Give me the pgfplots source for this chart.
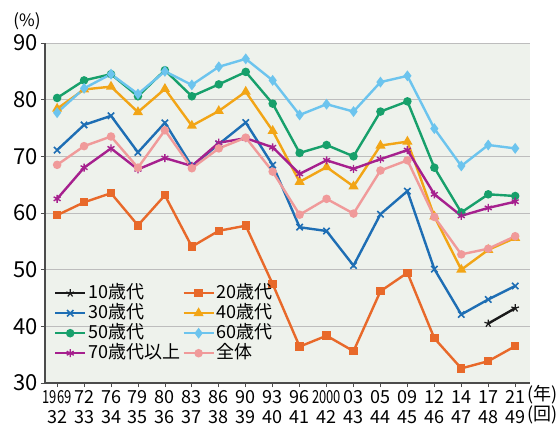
\documentclass[border=0pt]{standalone}
\usepackage{fontspec}
\setmainfont{Noto Sans CJK JP}
\usepackage{graphicx}
\usepackage{pgfplots}
\pgfplotsset{compat=1.18}
\definecolor{c10}{HTML}{1A1A1A}
\definecolor{c20}{HTML}{E8692A}
\definecolor{c30}{HTML}{1E6EB4}
\definecolor{c40}{HTML}{F2A516}
\definecolor{c50}{HTML}{17A06B}
\definecolor{c60}{HTML}{6CC4EE}
\definecolor{c70}{HTML}{A6208E}
\definecolor{call}{HTML}{F09A9A}
\definecolor{bg}{HTML}{EEF2EC}
\definecolor{gridc}{HTML}{BDBDBD}
\newcommand{\cn}[1]{\scalebox{0.72}[1]{#1}}
\begin{document}
\begin{tikzpicture}
\begin{axis}[
  width=485pt, height=340pt, scale only axis,
  xmin=-0.45, xmax=17.55, ymin=30, ymax=90,
  ytick={30,40,...,90},
  xtick={0,...,17},
  xticklabels={{\cn{1969}\\32},{72\\33},{76\\34},{79\\35},{80\\36},{83\\37},{86\\38},{90\\39},{93\\40},{96\\41},{\cn{2000}\\42},{03\\43},{05\\44},{09\\45},{12\\46},{14\\47},{17\\48},{21\\49}},
  xticklabel style={align=center, font=\fontsize{18}{20}\selectfont},
  yticklabel style={font=\fontsize{22}{24}\selectfont},
  /pgf/number format/assume math mode=true,
  axis x line*=bottom, axis y line*=left,
  axis line style={draw=black!70, line width=1.3pt, -},
  tick style={draw=black!70, line width=0.8pt},
  tick align=outside, major tick length=4pt,
  ymajorgrids, grid style={draw=gridc, line width=0.8pt},
  axis background/.style={fill=bg},
  clip=false,
  every axis plot/.append style={line width=2.4pt},
  legend columns=2,
  legend cell align=left,
  legend style={at={(0.012,0.30)}, anchor=north west, draw=none, fill=none,
    font=\fontsize{18}{19}\selectfont, row sep=0pt, column sep=1pt,
    nodes={inner sep=1pt, text height=14pt, text depth=4pt}},
  legend image code/.code={\draw[mark repeat=2,mark phase=2] plot coordinates {(0pt,0pt) (15pt,0pt) (30pt,0pt)};},
]
\addplot[c10, mark=star, mark size=4pt, mark options={line width=1.2pt}] coordinates {(16,40.5) (17,43.2)};
\addlegendentry{10歳代}
\addplot[c20, mark=square*, mark size=3pt] coordinates {
(0,59.61) (1,61.89) (2,63.50) (3,57.82) (4,63.13) (5,54.07) (6,56.86) (7,57.76) (8,47.46)
(9,36.42) (10,38.35) (11,35.62) (12,46.20) (13,49.45) (14,37.89) (15,32.58) (16,33.85) (17,36.50)};
\addlegendentry{20歳代}
\addplot[c30, mark=x, mark size=4.5pt, mark options={line width=1.6pt}] coordinates {
(0,71.11) (1,75.54) (2,77.15) (3,70.70) (4,75.92) (5,68.25) (6,72.15) (7,75.97) (8,68.46)
(9,57.49) (10,56.82) (11,50.72) (12,59.79) (13,63.87) (14,50.10) (15,42.09) (16,44.75) (17,47.12)};
\addlegendentry{30歳代}
\addplot[c40, mark=triangle*, mark size=3.5pt] coordinates {
(0,78.4) (1,81.8) (2,82.3) (3,77.8) (4,81.9) (5,75.4) (6,78.0) (7,81.4) (8,74.5)
(9,65.5) (10,68.1) (11,64.7) (12,71.9) (13,72.6) (14,59.4) (15,50.0) (16,53.5) (17,55.6)};
\addlegendentry{40歳代}
\addplot[c50, mark=*, mark size=3pt] coordinates {
(0,80.3) (1,83.4) (2,84.5) (3,80.6) (4,85.2) (5,80.6) (6,82.7) (7,84.9) (8,79.3)
(9,70.6) (10,72.0) (11,70.0) (12,77.9) (13,79.7) (14,68.0) (15,60.1) (16,63.3) (17,63.0)};
\addlegendentry{50歳代}
\addplot[c60, mark=diamond*, mark size=3.5pt] coordinates {
(0,77.7) (1,82.0) (2,84.5) (3,81.0) (4,85.0) (5,82.6) (6,85.8) (7,87.2) (8,83.4)
(9,77.3) (10,79.2) (11,77.9) (12,83.1) (13,84.2) (14,74.9) (15,68.3) (16,72.0) (17,71.4)};
\addlegendentry{60歳代}
\addplot[c70, mark=asterisk, mark size=4pt, mark options={line width=1.4pt}] coordinates {
(0,62.5) (1,68.0) (2,71.4) (3,67.7) (4,69.7) (5,68.3) (6,72.4) (7,73.2) (8,71.6)
(9,66.9) (10,69.3) (11,67.8) (12,69.5) (13,71.1) (14,63.3) (15,59.5) (16,60.9) (17,62.0)};
\addlegendentry{70歳代以上}
\addplot[call, mark=*, mark size=3pt] coordinates {
(0,68.5) (1,71.8) (2,73.5) (3,68.0) (4,74.6) (5,67.9) (6,71.4) (7,73.3) (8,67.3)
(9,59.7) (10,62.5) (11,59.9) (12,67.5) (13,69.3) (14,59.3) (15,52.7) (16,53.7) (17,55.9)};
\addlegendentry{全体}
\node[font=\fontsize{17}{18}\selectfont] at ([xshift=-18pt,yshift=22pt]rel axis cs:0,1) {(\%)};
\node[anchor=west, font=\fontsize{18}{20}\selectfont, inner sep=0pt] at ([xshift=-3pt,yshift=-12pt]rel axis cs:1,0) {(年)};
\node[anchor=west, font=\fontsize{18}{20}\selectfont, inner sep=0pt] at ([xshift=-3pt,yshift=-32pt]rel axis cs:1,0) {(回)};
\end{axis}
\path (-45pt,-49pt) rectangle (514pt,383pt);
\end{tikzpicture}
\end{document}
